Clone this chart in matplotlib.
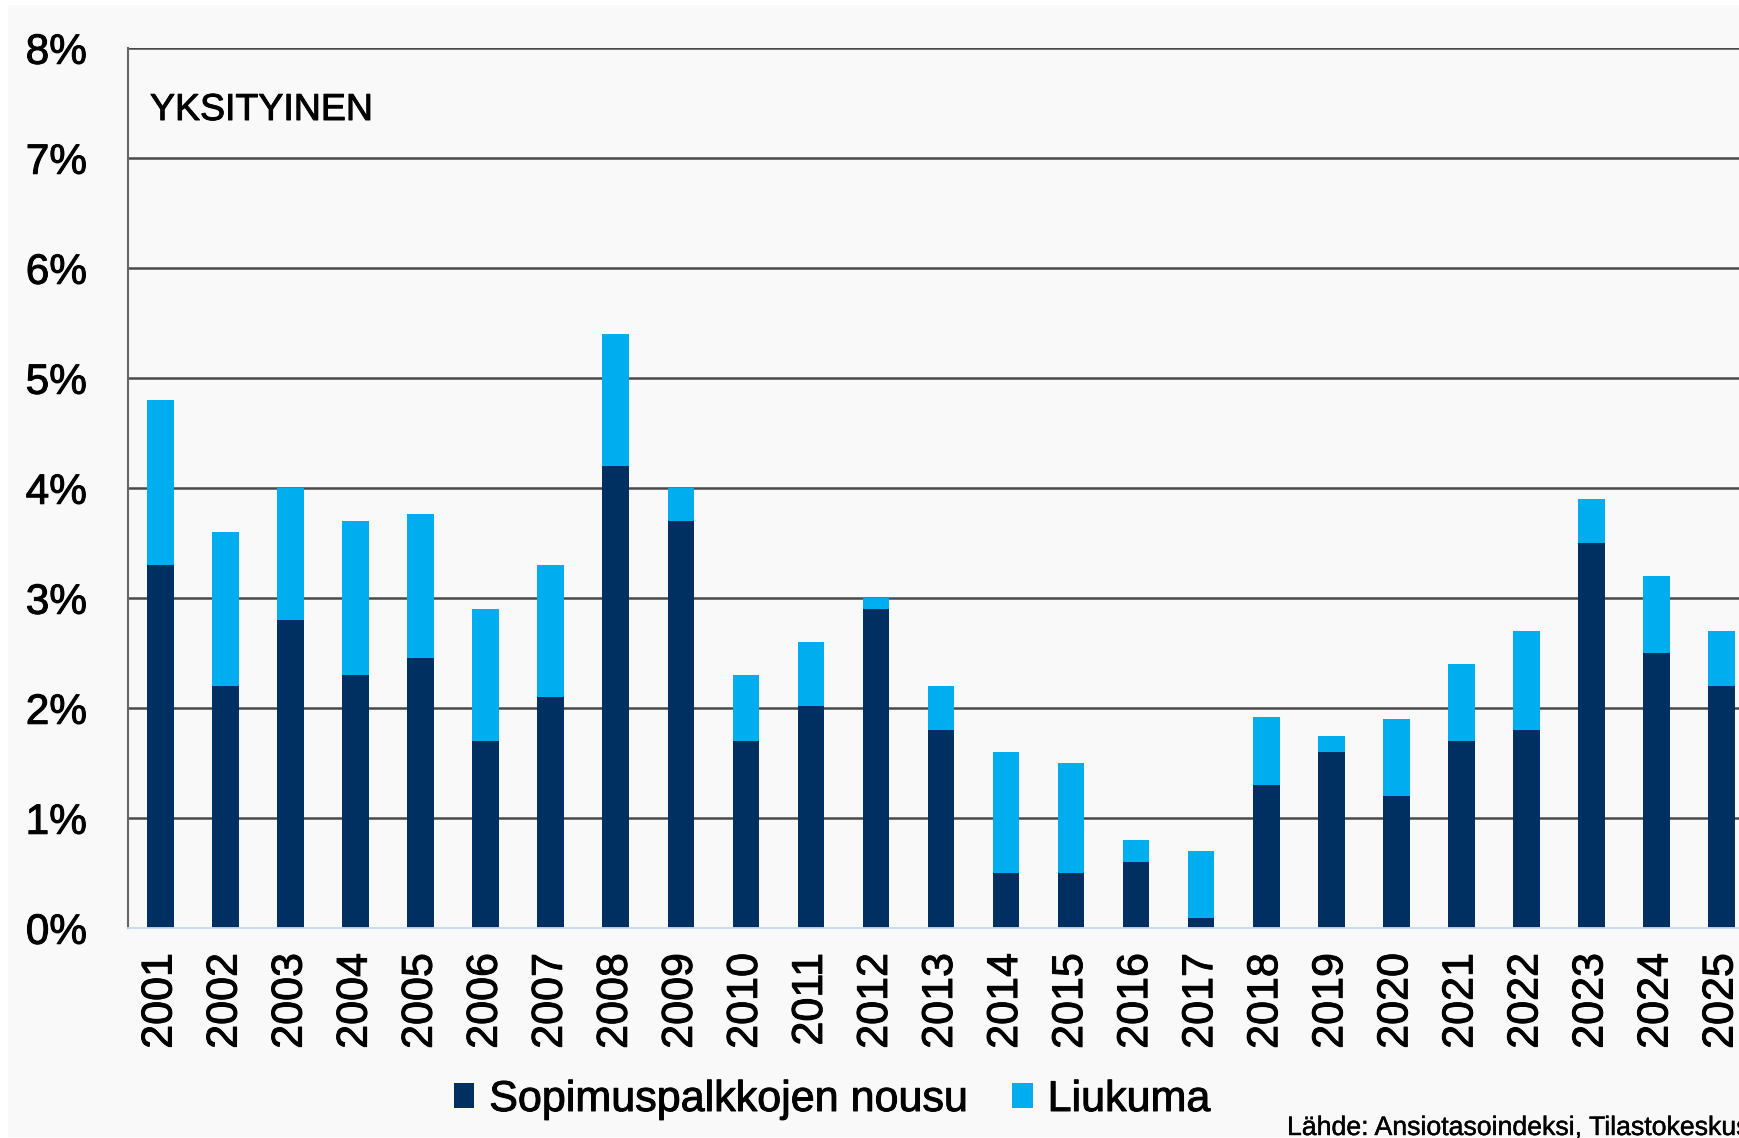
import matplotlib
matplotlib.use("Agg")
import matplotlib.pyplot as plt
import matplotlib.patheffects as pe
import numpy as np
from matplotlib.patches import Rectangle

plt.rcParams["font.family"] = ["Liberation Sans", "DejaVu Sans"]

years = [str(y) for y in range(2001, 2026)]
# sopimuspalkkojen nousu (dark) and total increase (top of stacked bar), %
sopimus = [3.3, 2.2, 2.8, 2.3, 2.46, 1.7, 2.1, 4.2, 3.7, 1.7, 2.02, 2.9, 1.8,
           0.5, 0.5, 0.6, 0.09, 1.3, 1.6, 1.2, 1.7, 1.8, 3.5, 2.5, 2.2]
total = [4.8, 3.6, 4.0, 3.7, 3.77, 2.9, 3.3, 5.4, 4.0, 2.3, 2.6, 3.0, 2.2,
         1.6, 1.5, 0.8, 0.7, 1.92, 1.75, 1.9, 2.4, 2.7, 3.9, 3.2, 2.7]
liukuma = [t - s for t, s in zip(total, sopimus)]
y_ticks = [0, 1, 2, 3, 4, 5, 6, 7, 8]

DARK = "#002f62"
LIGHT = "#00aeef"
BG = "#f9f9f9"
W, H = 1740, 1138
# slight stroke to mimic the heavier text rendering of the original
HEAVY = [pe.withStroke(linewidth=0.7, foreground="black")]

fig = plt.figure(figsize=(W / 100, H / 100), dpi=100, facecolor="white")
fig.patches.append(Rectangle((8 / W, 1 / H), 1, (H - 6) / H,
                             transform=fig.transFigure, facecolor=BG,
                             edgecolor="none", zorder=-10))

ax = fig.add_axes([128 / W, (H - 928.3) / H, 1626 / W, 880 / H])
ax.set_facecolor(BG)

x = np.arange(len(years))
ax.bar(x, sopimus, width=0.41, color=DARK, label="Sopimuspalkkojen nousu", zorder=3)
ax.bar(x, liukuma, width=0.41, bottom=sopimus, color=LIGHT, label="Liukuma", zorder=3)

ax.set_xlim(-0.5, len(years) - 0.5)
ax.set_ylim(0, 8)
ax.set_yticks(y_ticks)
ax.set_yticklabels([f"{v}%" for v in y_ticks])
ax.set_xticks(x)
ax.set_xticklabels(years, rotation=90)
ax.tick_params(axis="y", length=0, pad=29.5, labelsize=30.5)
ax.tick_params(axis="x", length=0, pad=18, labelsize=31)
for lbl in ax.get_xticklabels() + ax.get_yticklabels():
    lbl.set_path_effects(HEAVY)

for v in y_ticks[1:]:
    ax.axhline(v, color="#4a4a4a", lw=1.8, zorder=2)

ax.spines["top"].set_visible(False)
ax.spines["right"].set_visible(False)
ax.spines["left"].set_color("#666666")
ax.spines["left"].set_linewidth(1.5)
ax.spines["bottom"].set_color("#c6dcf3")
ax.spines["bottom"].set_linewidth(1.3)
ax.spines["bottom"].set_zorder(4)

fig.text(150 / W, (H - 120) / H, "YKSITYINEN", fontsize=27, va="baseline",
         ha="left", path_effects=HEAVY)

leg = fig.legend(loc="center", bbox_to_anchor=(832 / W, 1 - 1100 / H), ncol=2,
                 frameon=False, fontsize=31, handlelength=0.47, handleheight=0.5,
                 handletextpad=0.35, columnspacing=1.05)
for t in leg.get_texts():
    t.set_path_effects(HEAVY)

fig.text(1287 / W, 3 / H, "Lähde: Ansiotasoindeksi, Tilastokeskus",
         fontsize=19.2, va="baseline", ha="left",
         path_effects=[pe.withStroke(linewidth=0.3, foreground="black")])

fig.savefig("out.png", dpi=100, facecolor=fig.get_facecolor())
